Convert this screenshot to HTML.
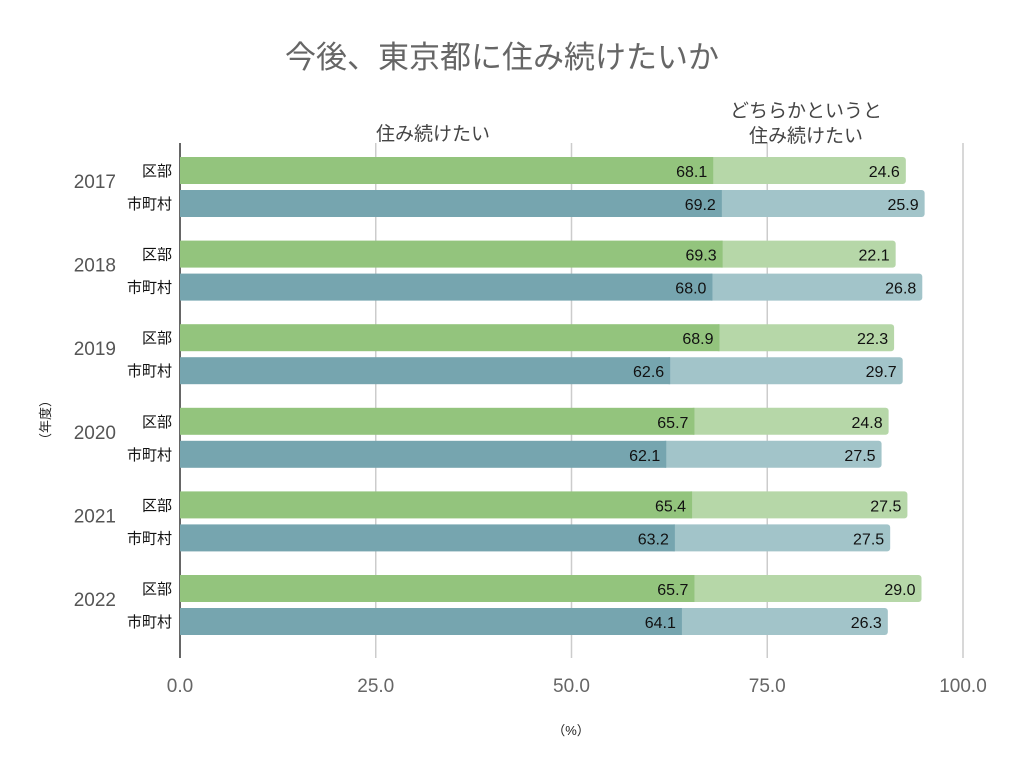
<!DOCTYPE html>
<html><head><meta charset="utf-8"><style>
body{margin:0;background:#fff;font-family:"Liberation Sans","Noto Sans CJK JP",sans-serif;}
</style></head><body>
<svg id="c" width="1024" height="760" xmlns="http://www.w3.org/2000/svg" font-family="Liberation Sans, Noto Sans CJK JP, sans-serif"></svg>
<script>
const years=["2017","2018","2019","2020","2021","2022"];
const kubuA=[68.1,69.3,68.9,65.7,65.4,65.7];
const kubuB=[24.6,22.1,22.3,24.8,27.5,29.0];
const shiA=[69.2,68.0,62.6,62.1,63.2,64.1];
const shiB=[25.9,26.8,29.7,27.5,27.5,26.3];
const ticks=[0,25,50,75,100];
const svg=document.getElementById('c');
const NS="http://www.w3.org/2000/svg";
const x=v=>180+v*7.83;
function mk(t,a,p){const e=document.createElementNS(NS,t);for(const k in a)e.setAttribute(k,a[k]);(p||svg).appendChild(e);return e;}
function txt(s,a){const e=mk('text',a);e.textContent=s;return e;}
let t=txt("今後、東京都に住み続けたいか",{x:502,y:68,"text-anchor":"middle","font-size":31,fill:"#666"});

ticks.forEach(v=>{
 if(v>0){const g=mk('line',{x1:x(v),x2:x(v),y1:143,y2:658,stroke:"#ccc","stroke-width":1.5});
 }
 const l=txt(v.toFixed(1),{x:x(v),y:692,"text-anchor":"middle","font-size":19,fill:"#666"});
 
});
const ax=mk('line',{x1:180,x2:180,y1:143,y2:658,stroke:"#333","stroke-width":1.5});

function bar(y,a,b,c1,c2,name){
 const g=mk('g',{});
 
 
 const w2=x(a+b)-x(a);
 mk('rect',{x:x(a)-4,y:y,width:w2+4,height:27,rx:3,fill:c2},g);
 mk('rect',{x:180,y:y,width:x(a)-180,height:27,fill:c1},g);
 const t1=txt(a.toFixed(1),{x:x(a)-6,y:y+20,"text-anchor":"end","font-size":16,fill:"#111"});
 
 const t2=txt(b.toFixed(1),{x:x(a+b)-6,y:y+20,"text-anchor":"end","font-size":16,fill:"#111"});
 
}
years.forEach((yr,i)=>{
 const y0=157+i*83.6;
 bar(y0,kubuA[i],kubuB[i],"#93c47d","#b6d7a8","bar-kubu-"+yr);
 bar(y0+33,shiA[i],shiB[i],"#76a5af","#a2c4c9","bar-shichoson-"+yr);
 const a=txt("区部",{x:172,y:y0+19,"text-anchor":"end","font-size":15,fill:"#111"});
 
 const b=txt("市町村",{x:172,y:y0+52,"text-anchor":"end","font-size":15,fill:"#111"});
 
 const c=txt(yr,{x:116,y:y0+31,"text-anchor":"end","font-size":19,fill:"#555"});
 
});
const l1=txt("住み続けたい",{x:433,y:140,"text-anchor":"middle","font-size":19,fill:"#444"});

const l2=txt("どちらかというと",{x:806,y:117,"text-anchor":"middle","font-size":19,fill:"#444"});

const l3=txt("住み続けたい",{x:806,y:142,"text-anchor":"middle","font-size":19,fill:"#444"});

const yt=txt("（年度）",{x:0,y:0,"text-anchor":"middle","font-size":13,fill:"#222",transform:"translate(50,420) rotate(-90)"});

const xt=txt("（%）",{x:571,y:735,"text-anchor":"middle","font-size":13,fill:"#222"});

</script>
</body></html>
